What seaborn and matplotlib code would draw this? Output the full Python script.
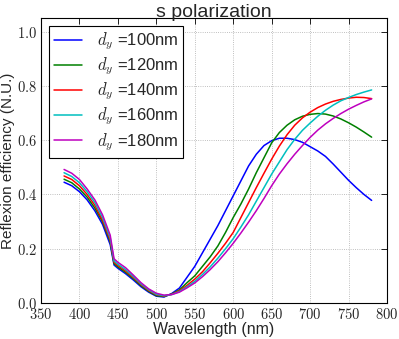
import numpy as np
import pandas as pd
import matplotlib
matplotlib.use("Agg")
import matplotlib.pyplot as plt
from matplotlib.ticker import FuncFormatter
import seaborn as sns

# ==========================
# DATA
# ==========================
wavelength = [380, 390, 400, 410, 420, 430, 440, 445, 450, 460, 470, 480, 490, 500,
              510, 520, 530, 540, 550, 560, 570, 580, 590, 600, 610, 620, 630, 640,
              650, 660, 670, 680, 690, 700, 710, 720, 730, 740, 750, 760, 770, 780]

r_100 = [0.445, 0.432, 0.410, 0.380, 0.340, 0.290, 0.215, 0.140, 0.128, 0.108, 0.085, 0.060, 0.040, 0.025,
         0.022, 0.035, 0.055, 0.095, 0.135, 0.185, 0.235, 0.285, 0.340, 0.395, 0.450, 0.505, 0.548, 0.580,
         0.598, 0.607, 0.607, 0.602, 0.592, 0.576, 0.560, 0.540, 0.512, 0.482, 0.452, 0.425, 0.400, 0.378]
r_120 = [0.456, 0.443, 0.420, 0.390, 0.350, 0.300, 0.225, 0.145, 0.133, 0.113, 0.090, 0.064, 0.043, 0.027,
         0.024, 0.033, 0.048, 0.075, 0.100, 0.135, 0.170, 0.210, 0.260, 0.315, 0.365, 0.420, 0.480, 0.535,
         0.590, 0.628, 0.655, 0.675, 0.688, 0.695, 0.698, 0.696, 0.689, 0.678, 0.664, 0.648, 0.630, 0.611]
r_140 = [0.468, 0.455, 0.432, 0.400, 0.360, 0.305, 0.232, 0.150, 0.138, 0.118, 0.094, 0.068, 0.046, 0.030,
         0.026, 0.032, 0.045, 0.065, 0.088, 0.115, 0.148, 0.183, 0.220, 0.260, 0.315, 0.370, 0.425, 0.478,
         0.530, 0.578, 0.620, 0.655, 0.682, 0.703, 0.720, 0.733, 0.743, 0.750, 0.755, 0.758, 0.757, 0.753]
r_160 = [0.480, 0.466, 0.443, 0.410, 0.370, 0.315, 0.240, 0.155, 0.143, 0.123, 0.098, 0.071, 0.049, 0.032,
         0.027, 0.031, 0.042, 0.060, 0.080, 0.105, 0.133, 0.165, 0.200, 0.237, 0.280, 0.325, 0.375, 0.425,
         0.475, 0.520, 0.565, 0.603, 0.636, 0.663, 0.688, 0.710, 0.729, 0.745, 0.757, 0.768, 0.777, 0.785]
r_180 = [0.492, 0.478, 0.455, 0.420, 0.380, 0.325, 0.250, 0.163, 0.150, 0.130, 0.103, 0.075, 0.052, 0.036,
         0.029, 0.031, 0.040, 0.056, 0.074, 0.097, 0.123, 0.152, 0.185, 0.220, 0.258, 0.298, 0.340, 0.385,
         0.432, 0.475, 0.513, 0.548, 0.580, 0.610, 0.637, 0.660, 0.680, 0.698, 0.714, 0.728, 0.741, 0.752]

labels = [r"$d_y$ =100nm", r"$d_y$ =120nm", r"$d_y$ =140nm", r"$d_y$ =160nm", r"$d_y$ =180nm"]
series = [r_100, r_120, r_140, r_160, r_180]
colors = ["#0000ff", "#008000", "#ff0000", "#00bfbf", "#bf00bf"]

df = pd.concat(
    [pd.DataFrame({"wavelength": wavelength, "reflexion": s, "dy": lab})
     for s, lab in zip(series, labels)],
    ignore_index=True,
)

# ==========================
# STYLE
# ==========================
sns.set_style("white")
plt.rcParams["font.family"] = ["Liberation Sans", "DejaVu Sans"]
plt.rcParams["mathtext.fontset"] = "cm"

fig = plt.figure(figsize=(3.99, 3.39), dpi=100)
ax = fig.add_axes([41 / 399, 36 / 339, 346 / 399, 285 / 339])

sns.lineplot(data=df, x="wavelength", y="reflexion", hue="dy",
             palette=colors, linewidth=1.1, ax=ax)

ax.set_xlim(350, 800)
ax.set_ylim(0, 1.05)
ax.set_xticks(np.arange(350, 801, 50))
ax.set_yticks(np.arange(0, 1.01, 0.2))
ax.xaxis.set_major_formatter(FuncFormatter(lambda v, p: f"${v:.0f}$"))
ax.yaxis.set_major_formatter(FuncFormatter(lambda v, p: f"${v:.1f}$"))
ax.tick_params(direction="in", top=True, right=True, length=4, width=0.6,
               labelsize=10.5, color="black", pad=3)

ax.grid(True, linestyle=":", color="#aaaaaa", linewidth=0.6)
for sp in ax.spines.values():
    sp.set_color("black")
    sp.set_linewidth(0.8)

ax.set_xlabel("Wavelength (nm)", fontsize=11.5, labelpad=0)
ax.set_ylabel("Reflexion efficiency (N.U.)", fontsize=11, labelpad=1)
ax.set_title("s polarization", fontsize=14, pad=1)

leg = ax.legend(loc="upper left", fontsize=12, fancybox=False, framealpha=1,
                edgecolor="black", labelspacing=0.2, handlelength=1.7,
                handletextpad=0.9, borderaxespad=0.45, borderpad=0.3)
leg.get_frame().set_linewidth(0.8)

plt.savefig("out.png", dpi=100)
plt.close()
